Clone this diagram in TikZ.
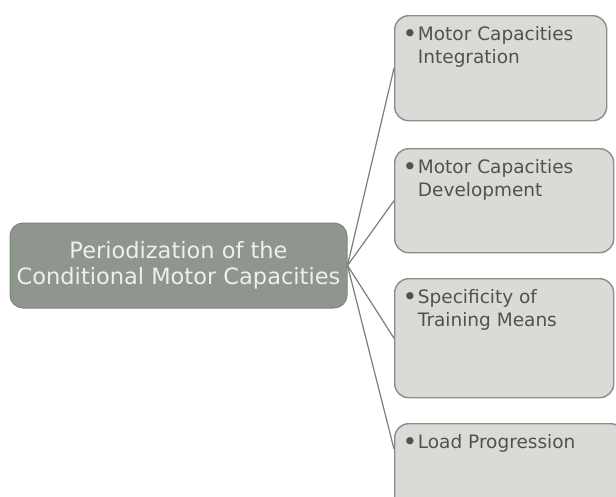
\documentclass[tikz,border=0pt]{standalone}
\usepackage{fontspec}
\setmainfont{DejaVu Sans}
\definecolor{rootbg}{HTML}{8F968E}
\definecolor{rootline}{HTML}{7E857D}
\definecolor{roottext}{HTML}{EEF0EA}
\definecolor{leafbg}{HTML}{D9DCD6}
\definecolor{leafline}{HTML}{8B8E88}
\definecolor{leaftext}{HTML}{4F524F}
\definecolor{wire}{HTML}{7B7E79}
% a heavier bullet than the font's own
\newcommand{\leafdot}{\raisebox{-1.2pt}{\scalebox{1.35}{\textbullet}}}
% text of a leaf: bullet plus lines, kept at the top of the box
\newcommand{\leafbox}[3]{\parbox[c][#2pt][t]{#1pt}{\vspace*{9pt}\hspace*{8pt}%
  \begin{tabular}[t]{@{}c@{\hspace{0.5pt}}l@{}}#3\end{tabular}}}
\begin{document}
\begin{tikzpicture}[x=1pt,y=-1pt,
    root/.style={draw=rootline,fill=rootbg,line width=1pt,rounded corners=13pt,
      minimum width=337pt,minimum height=85pt,align=center,text=roottext,
      font=\fontsize{22.5}{26.5}\selectfont},
    leaf/.style={draw=leafline,fill=leafbg,line width=1.4pt,rounded corners=14pt,
      inner sep=0pt,anchor=north west,text=leaftext,
      font=\fontsize{18.5}{23}\selectfont},
    wire/.style={draw=wire,line width=1.2pt}]
  \clip (0,0) rectangle (616,496);
  \fill[white] (0,0) rectangle (616,496);
  \node[root] (period) at (178.5,265.5) {Periodization of the\\Conditional Motor Capacities};
  \node[leaf] (integ) at (394,15) {\leafbox{212}{105}{\leafdot & Motor Capacities\\ & Integration}};
  \node[leaf] (devel) at (394,148) {\leafbox{219}{104}{\leafdot & Motor Capacities\\ & Development}};
  \node[leaf] (means) at (394,278) {\leafbox{219}{119}{\leafdot & Specificity of\\ & Training Means}};
  \node[leaf] (load) at (394,423) {\leafbox{230}{110}{\leafdot & Load Progression}};
  \draw[wire] (period.east) -- (integ.west);
  \draw[wire] (period.east) -- (devel.west);
  \draw[wire] (period.east) -- (means.west);
  \draw[wire] (period.east) -- ([yshift=-26pt]load.north west);
\end{tikzpicture}
\end{document}
